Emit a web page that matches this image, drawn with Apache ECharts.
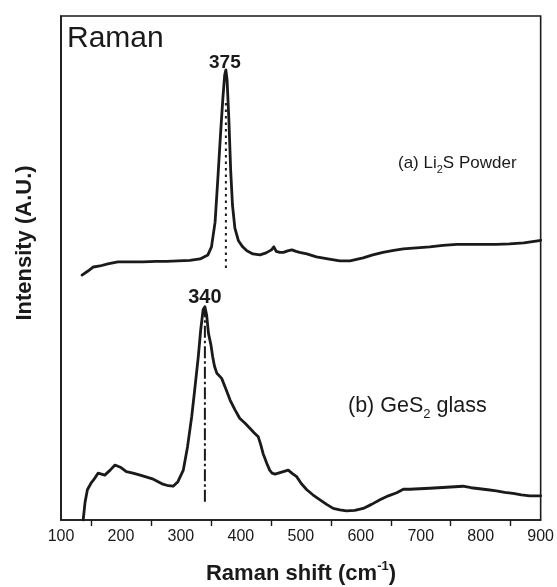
<!DOCTYPE html>
<html>
<head>
<meta charset="utf-8">
<script src="https://cdn.jsdelivr.net/npm/echarts@6/dist/echarts.min.js"></script>
<style>
  html, body { margin: 0; padding: 0; background: #fff; }
  #chart { width: 557px; height: 587px; }
</style>
</head>
<body>
<div id="chart"></div>
<script>
// Raman shift (cm^-1) and relative intensity, spectrum (a): Li2S powder
const shiftA = [135,145,154,165,178,195,215,237,258,276,295,315,332,345,351,357,362,366,370,373,375,377,380,383,386,390,396,403,410,420,432,442,451,455,459,465,471,478,485,492,498,510,526,545,565,582,604,620,637,655,671,693,715,737,760,782,804,826,848,872,895,900];
const intensityA = [48.6,49.4,50.2,50.4,50.8,51.2,51.2,51.2,51.3,51.3,51.4,51.5,51.8,52.6,54.2,59.1,68.5,76.4,83.7,88.3,89.3,87.3,79.4,69.4,62.5,57.9,55.4,54.2,53.4,52.8,52.6,53.0,53.6,54.2,53.3,53.1,53.1,53.4,53.6,53.3,53.1,52.8,52.2,51.8,51.4,51.4,52.0,52.6,53.1,53.5,53.8,54.0,54.2,54.5,54.7,54.7,54.7,54.7,54.8,55.0,55.4,55.5];

// Spectrum (b): GeS2 glass
const shiftB = [137,140,144,150,154,162,173,182,190,200,209,220,232,243,254,262,270,279,287,295,304,311,318,323,329,333,337,340,343,346,350,353,356,360,368,375,382,390,398,407,415,422,429,433,437,443,448,452,457,468,479,486,493,501,510,520,532,543,554,565,576,590,604,618,632,646,660,671,682,698,715,729,743,757,770,784,798,812,826,840,854,868,882,900];
const intensityB = [0,3.4,6.0,7.3,7.9,9.3,8.9,9.9,10.9,10.4,9.6,9.3,8.9,8.5,8.1,7.6,7.1,6.8,6.7,7.6,9.9,14.5,20.5,25.8,32.4,37.7,41.7,42.3,40.6,37.0,34.8,32.4,30.5,29.1,28.1,26.0,23.8,21.9,20.2,19.2,18.2,17.3,16.5,15.0,13.2,11.3,9.9,9.3,9.1,9.5,9.9,9.2,8.6,7.2,6.0,5.0,4.0,3.1,2.3,2.0,1.8,1.9,2.3,3.1,4.0,4.8,5.4,6.1,6.1,6.2,6.3,6.4,6.5,6.6,6.7,6.4,6.2,6.0,5.8,5.5,5.3,5.0,4.8,4.8];

// Peak positions marked by vertical guide lines
const peakA = 375, peakAIntensity = 89.3;
const peakB = 340, peakBIntensity = 42.3;
const guideA = [50.0, 83.0];   // dotted guide span under peak (a)
const guideB = [3.6, 42.0];    // dash-dot guide span under peak (b)

// Axis settings
const xMin = 100, xMax = 900, xStep = 100;
const yMin = 0, yMax = 100;

const pairs = (xs, ys) => xs.map((x, i) => [x, ys[i]]);
const ink = '#1a1a1a';
const font = '"Liberation Sans", Arial, Helvetica, sans-serif';

const chart = echarts.init(document.getElementById('chart'), null, { renderer: 'canvas' });

chart.setOption({
  animation: false,
  backgroundColor: '#fff',
  grid: { left: 61, right: 16, top: 16, bottom: 67, show: true, borderColor: ink, borderWidth: 1.6, backgroundColor: 'transparent' },
  xAxis: {
    type: 'value', min: xMin, max: xMax, interval: xStep,
    axisLine: { show: true, onZero: false, lineStyle: { color: ink, width: 1.6 } },
    axisTick: { show: true, length: 0, lineStyle: { color: ink, width: 0 } },
    minorTick: { show: true, splitNumber: 2, length: 6, lineStyle: { color: ink, width: 1.4 } },
    axisLabel: { color: '#1a1a1a', fontFamily: font, fontSize: 16, margin: 9 },
    splitLine: { show: false }
  },
  yAxis: {
    type: 'value', min: yMin, max: yMax,
    axisLine: { show: true, lineStyle: { color: ink, width: 1.6 } },
    axisTick: { show: false },
    axisLabel: { show: false },
    splitLine: { show: false }
  },
  series: [
    {
      name: 'guide a', type: 'line', showSymbol: false, silent: true, z: 1,
      data: [[peakA, guideA[0]], [peakA, guideA[1]]],
      lineStyle: { color: ink, width: 2, type: [2.5, 4] }
    },
    {
      name: 'guide b', type: 'line', showSymbol: false, silent: true, z: 1,
      data: [[peakB, guideB[0]], [peakB, guideB[1]]],
      lineStyle: { color: ink, width: 2, type: [12, 3, 2.5, 3] }
    },
    {
      name: '(a) Li2S Powder', type: 'line', showSymbol: false, z: 3,
      data: pairs(shiftA, intensityA),
      lineStyle: { color: ink, width: 2.8, join: 'round', cap: 'round' }
    },
    {
      name: '(b) GeS2 glass', type: 'line', showSymbol: false, z: 3,
      data: pairs(shiftB, intensityB),
      lineStyle: { color: ink, width: 2.8, join: 'round', cap: 'round' }
    }
  ]
});

const pa = chart.convertToPixel({ gridIndex: 0 }, [peakA, peakAIntensity]);
const pb = chart.convertToPixel({ gridIndex: 0 }, [peakB, peakBIntensity]);

chart.setOption({
  graphic: [
    {
      type: 'text', left: 67, top: 24,
      style: { text: 'Raman', fill: ink, font: '30px ' + font }
    },
    {
      type: 'text', x: pa[0] - 1, y: pa[1] - 7,
      style: { text: String(peakA), fill: ink, font: 'bold 19px ' + font, align: 'center', verticalAlign: 'middle' }
    },
    {
      type: 'text', x: pb[0], y: pb[1] - 9,
      style: { text: String(peakB), fill: ink, font: 'bold 20px ' + font, align: 'center', verticalAlign: 'middle' }
    },
    {
      type: 'text', x: 398, y: 163,
      style: {
        text: '{m|(a) Li}{s|2}{m|S Powder}', verticalAlign: 'middle', fill: ink,
        rich: {
          m: { fontFamily: font, fontSize: 17, lineHeight: 24, fill: ink },
          s: { fontFamily: font, fontSize: 11, lineHeight: 11, verticalAlign: 'bottom', fill: ink }
        }
      }
    },
    {
      type: 'text', x: 348, y: 406,
      style: {
        text: '{m|(b) GeS}{s|2}{m| glass}', verticalAlign: 'middle', fill: ink,
        rich: {
          m: { fontFamily: font, fontSize: 21.5, lineHeight: 30, fill: ink },
          s: { fontFamily: font, fontSize: 13, lineHeight: 13, verticalAlign: 'bottom', fill: ink }
        }
      }
    },
    {
      type: 'text', x: 301, y: 574,
      style: {
        text: '{m|Raman shift (cm}{s|-1}{m|)}', align: 'center', verticalAlign: 'middle', fill: ink,
        rich: {
          m: { fontFamily: font, fontSize: 22, fontWeight: 'bold', lineHeight: 28, fill: ink },
          s: { fontFamily: font, fontSize: 13, fontWeight: 'bold', lineHeight: 13, verticalAlign: 'top', fill: ink }
        }
      }
    },
    {
      type: 'text', x: 25, y: 243, rotation: Math.PI / 2,
      style: { text: 'Intensity (A.U.)', fill: ink, font: 'bold 22px ' + font, align: 'center', verticalAlign: 'middle' }
    }
  ]
});
</script>
</body>
</html>
